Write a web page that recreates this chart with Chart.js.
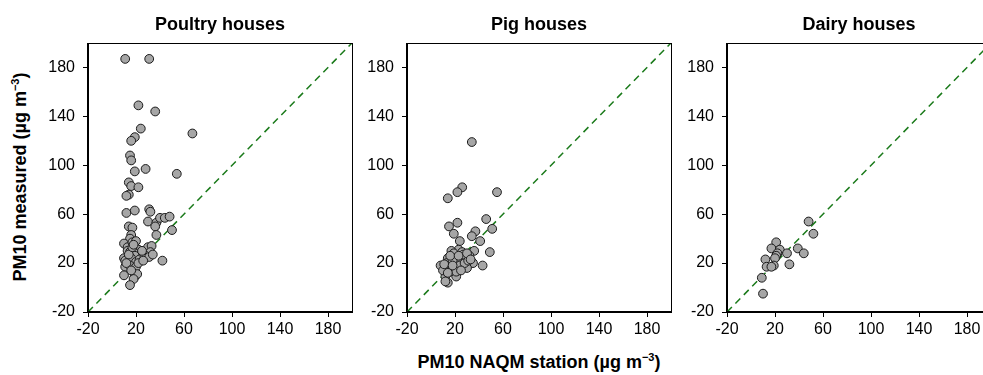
<!DOCTYPE html>
<html><head><meta charset="utf-8">
<script src="https://cdn.jsdelivr.net/npm/chart.js@4/dist/chart.umd.min.js"></script>
<style>
body{margin:0;width:983px;height:375px;overflow:hidden;position:relative;background:#fff;font-family:"Liberation Sans",Arial,sans-serif}
canvas{position:absolute;top:0}
.t{position:absolute;font-weight:bold;font-size:18px;line-height:18px;white-space:nowrap;text-align:center;color:#000}
.s{font-size:11px;vertical-align:7px;line-height:0}
</style></head><body>
<div class="t" id="xt" style="left:0;width:1078px;top:353px">PM10 NAQM station (µg m<span class="s">−3</span>)</div>
<div class="t" id="yt" style="left:-130px;width:300px;top:168px;transform:rotate(-90deg)">PM10 measured (µg m<span class="s">−3</span>)</div>
<script>
// ---- data ----
const panelTitles = ["Poultry houses", "Pig houses", "Dairy houses"];
const tickValues = [-20, 20, 60, 100, 140, 180];
const axisRange = [-20, 200];
const lineOfEquality = [-20, 200];

const poultryX = [11,31,22,36,24,67,19,16,15,16,19,28,54,14,16,22,14,12,12,19,31,32,30,37,40,44,48,36,50,37,14,17,16,15,10,13,17,20,22,30,33,32,13,15,18,24,28,19,10,11,16,20,23,27,31,42,11,15,20,10,19,21,18,15,22,14,17,25,18,12,26,16,34];
const poultryY = [187,187,149,144,130,126,123,120,108,104,95,97,93,86,83,82,76,75,61,63,64,62,54,53,57,57,58,50,47,43,50,49,43,40,36,33,37,38,31,33,34,29,30,29,29,27,26,26,24,22,24,21,23,25,25,22,17,18,17,10,9,11,7,2,20,27,33,30,35,20,22,14,27];

const pigX = [34,26,22,55,14,46,22,15,51,19,37,34,41,24,49,36,23,17,14,35,43,30,8,12,15,12,14,21,20,26,29,32,26,20,22,17,13,18,24,28,10,16,19,27,31,16,11,21,25,14,23,18,12,30,33];
const pigY = [119,82,78,78,73,56,53,50,48,44,46,42,38,38,29,30,31,30,24,20,18,16,18,15,15,9,4,9,17,22,24,26,29,25,22,20,20,22,18,20,14,13,28,27,22,26,19,13,14,12,26,18,5,28,23];

const dairyX = [48,52,21,17,24,39,30,44,22,21,20,12,32,13,19,17,9,10];
const dairyY = [54,44,37,32,31,32,28,28,28,26,24,23,19,17,18,17,8,-5];

const seriesX = [poultryX, pigX, dairyX];
const seriesY = [poultryY, pigY, dairyY];

// ---- layout ----
const FONT = '"Liberation Sans", Arial, sans-serif';
const plotLefts = [88, 407, 727];
const PLOT_W = 264, TOP = 43, BOTTOM = 312, YW = 60, CH = 345, PADR = 8;

const framePlugin = {
  id: 'frame',
  afterDraw(chart) {
    const a = chart.chartArea, c = chart.ctx;
    c.save();
    c.strokeStyle = '#000'; c.lineWidth = 1;
    c.strokeRect(Math.round(a.left) - 0.5, Math.round(a.top) + 0.5, Math.round(a.right - a.left) + 1, Math.round(a.bottom - a.top) - 1);
    c.fillStyle = '#000';
    c.font = 'bold 18px ' + FONT;
    c.textAlign = 'center'; c.textBaseline = 'alphabetic';
    c.fillText(chart.options.plugins.panelTitle.text, (a.left + a.right) / 2, 30);
    c.restore();
  }
};

panelTitles.forEach((title, i) => {
  const cv = document.createElement('canvas');
  cv.width = YW + PLOT_W + PADR; cv.height = CH;
  cv.style.left = (plotLefts[i] - YW) + 'px';
  document.body.appendChild(cv);
  const pts = seriesX[i].map((x, k) => ({x: x, y: seriesY[i][k]}));
  const axisCommon = {
    type: 'linear', min: axisRange[0], max: axisRange[1],
    afterBuildTicks: s => { s.ticks = tickValues.map(v => ({value: v})); },
    grid: {drawOnChartArea: false, drawTicks: true, tickLength: 5, color: '#000', lineWidth: 1},
    border: {display: true, color: '#000', width: 1},
    ticks: {color: '#000', font: {size: 16, family: FONT}, maxRotation: 0, autoSkip: false}
  };
  new Chart(cv.getContext('2d'), {
    type: 'scatter',
    data: {datasets: [
      {data: pts, backgroundColor: '#a6a6a6', borderColor: '#1a1a1a', borderWidth: 1, pointRadius: 4.4, pointHoverRadius: 4.4},
      {type: 'line', data: lineOfEquality.map(v => ({x: v, y: v})), borderColor: '#1a7a1a', borderWidth: 1.5, borderDash: [7, 5], pointRadius: 0, fill: false}
    ]},
    options: {
      responsive: false, animation: false, events: [],
      layout: {padding: {top: TOP, right: PADR, left: 0, bottom: 0}},
      plugins: {legend: {display: false}, tooltip: {enabled: false}, panelTitle: {text: title}},
      scales: {
        x: Object.assign({}, axisCommon, {afterFit: s => { s.height = CH - BOTTOM; }, ticks: Object.assign({}, axisCommon.ticks, {padding: 3})}),
        y: Object.assign({}, axisCommon, {afterFit: s => { s.width = YW; }, ticks: Object.assign({}, axisCommon.ticks, {padding: 8})})
      }
    },
    plugins: [framePlugin]
  });
});
</script>
</body></html>
